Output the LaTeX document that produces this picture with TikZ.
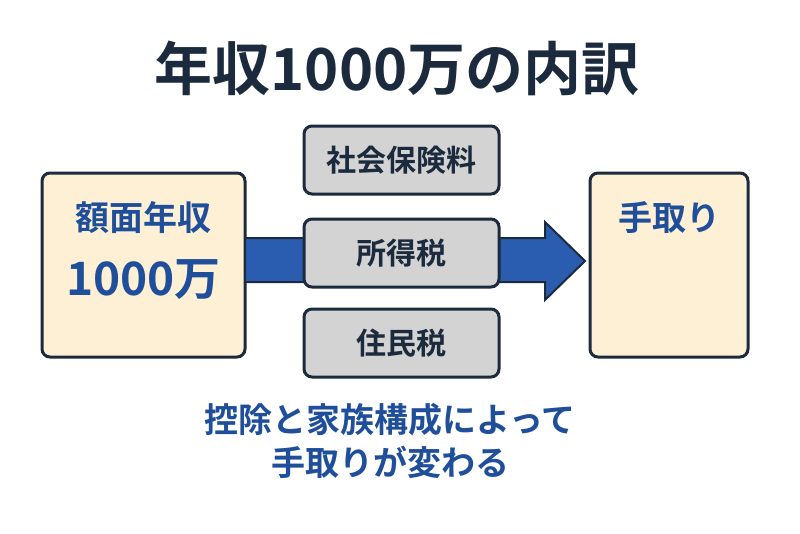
\documentclass[tikz,border=0pt]{standalone}
\usepackage{fontspec}
\setmainfont{Noto Sans CJK JP}[BoldFont={* Bold}]
\definecolor{navy}{HTML}{1B2A3C}
\definecolor{tblue}{HTML}{1F4E9A}
\definecolor{ablue}{HTML}{2A5DB0}
\definecolor{cream}{HTML}{FDF0D5}
\definecolor{gbox}{HTML}{D3D3D3}
\tikzset{
 box/.style={draw=navy,line width=3pt,rounded corners=8pt,inner sep=0pt},
 big/.style={box,fill=cream,minimum width=200pt,minimum height=184pt},
 mid/.style={box,fill=gbox,minimum width=195pt,minimum height=68pt,font=\fontsize{30}{34}\selectfont\bfseries,text=navy},
 lbl/.style={font=\fontsize{34}{38}\selectfont\bfseries,text=tblue}
}
\begin{document}
\begin{tikzpicture}[x=1pt,y=-1pt]
\useasboundingbox (0,0) rectangle (800,533);
\node[font=\fontsize{58}{62}\selectfont\bfseries,text=navy] (title) at (397,68) {年収1000万の内訳};
\node[big,minimum width=203pt] (left) at (143.5,265) {};
\node[big,minimum width=158pt] (right) at (669,265) {};
\draw[draw=navy,line width=2pt,fill=ablue] (245,238) -- (545,238) -- (545,222) -- (585,261) -- (545,300) -- (545,282) -- (245,282) -- cycle;
\node[lbl] (l1) at (143.5,218) {額面年収};
\node[lbl,font=\fontsize{46}{50}\selectfont\bfseries] (l2) at (143.5,280) {1000万};
\node[lbl] (r1) at (669,218) {手取り};
\node[mid] (m1) at (401.5,160) {社会保険料};
\node[mid] (m2) at (401.5,253) {所得税};
\node[mid] (m3) at (401.5,343) {住民税};
\node[lbl] (b1) at (390,420) {控除と家族構成によって};
\node[lbl] (b2) at (390,462) {手取りが変わる};
\end{tikzpicture}
\end{document}
